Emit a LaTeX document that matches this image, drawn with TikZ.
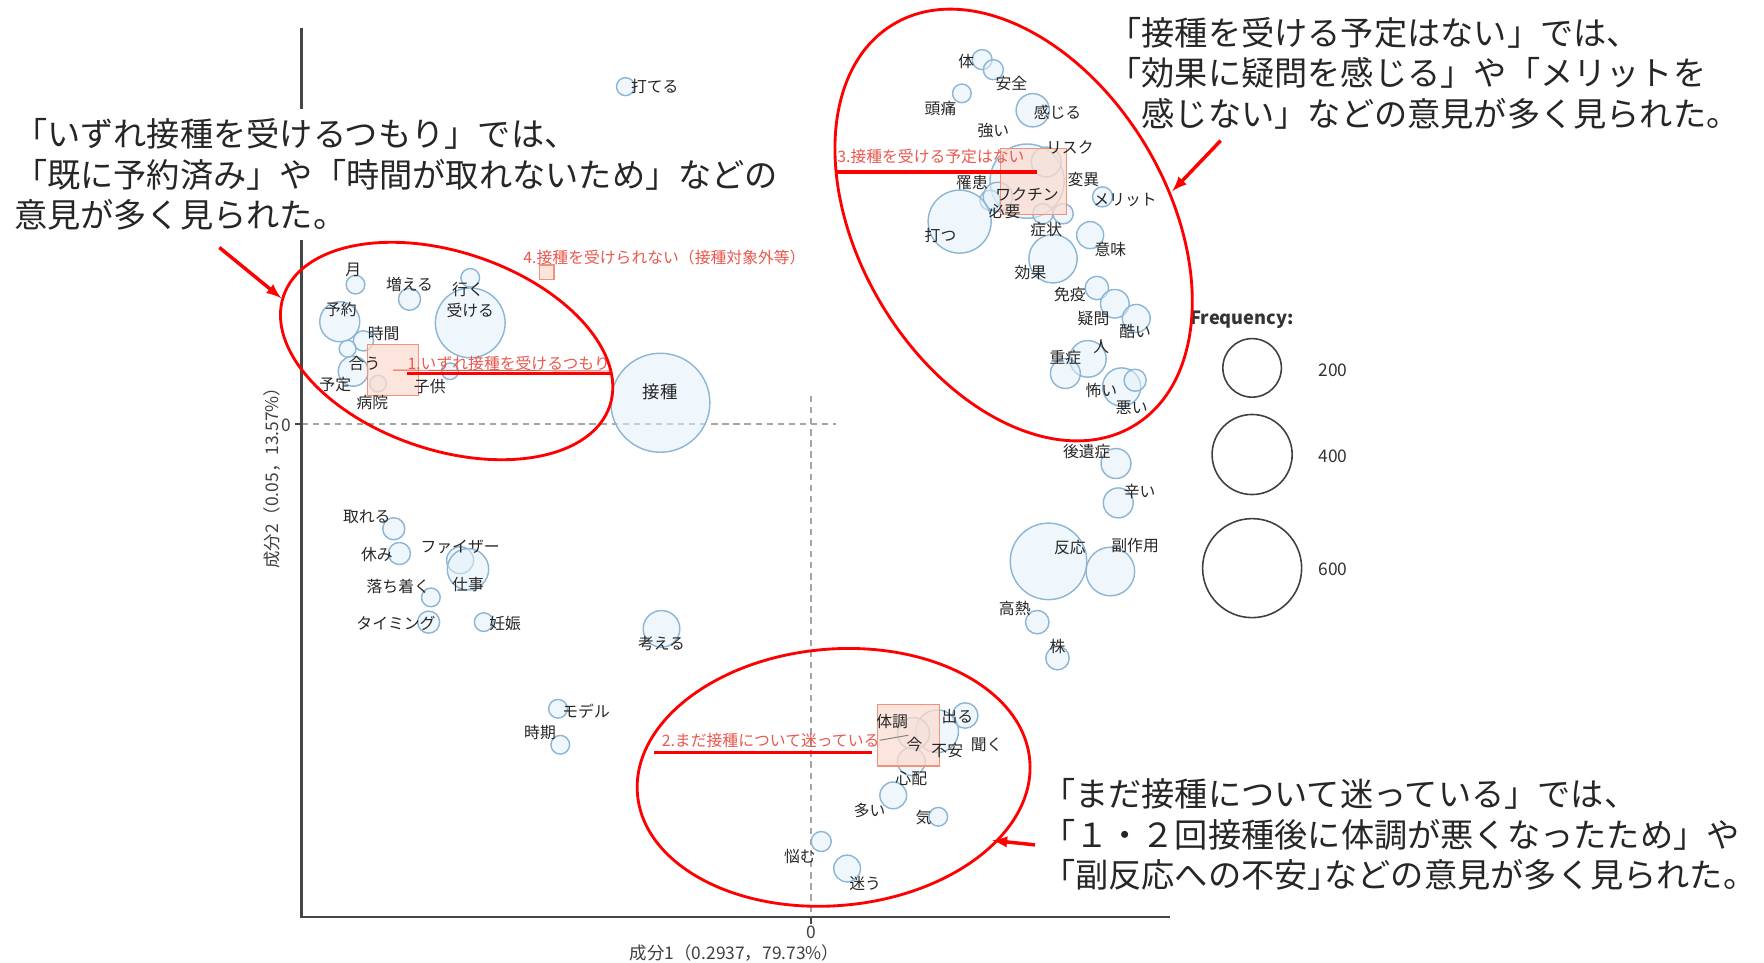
\documentclass[tikz,border=0pt]{standalone}
\usepackage{fontspec}
\setmainfont{Noto Sans CJK JP}
\usepackage{tikz}
\usepackage{xcolor}
\definecolor{bubbleLine}{RGB}{140, 182, 212}
\definecolor{bubbleFill}{RGB}{226, 240, 249}
\definecolor{catRed}{RGB}{232, 88, 78}
\definecolor{boxFill}{RGB}{250, 220, 208}
\definecolor{boxLine}{RGB}{240, 146, 124}
\definecolor{axisGray}{RGB}{70, 70, 70}

\begin{document}
\begin{tikzpicture}[x=0.025cm, y=-0.025cm]
  \tikzstyle{word} = [font=\fontsize{10}{12}\selectfont, text=black!85, inner sep=0pt]
  \tikzstyle{bubble} = [draw=bubbleLine, fill=bubbleFill, fill opacity=0.55, line width=0.9pt]
  \tikzstyle{catbox} = [draw=boxLine, fill=boxFill, fill opacity=0.75, line width=0.7pt, inner sep=0pt]
  \tikzstyle{catlabel} = [font=\fontsize{10}{12}\selectfont, text=catRed, inner sep=0pt]
  \tikzstyle{note} = [font=\fontsize{21}{25.6}\selectfont, align=left, inner sep=0pt, text=black!85]
  \tikzstyle{axislabel} = [font=\fontsize{11}{13}\selectfont, text=black!75, inner sep=0pt]
  \tikzstyle{legring} = [draw=black!75, circle, line width=1pt, inner sep=0pt]
  \tikzstyle{zeroline} = [draw=gray!70, line width=0.8pt, dash pattern=on 4pt off 3pt]
  \tikzstyle{redbar} = [draw=red, line width=2.2pt]
  \tikzstyle{redarrow} = [draw=red, line width=2.2pt, -latex]
  \tikzstyle{ringline} = [draw=red, line width=1.8pt]

  \useasboundingbox (0,0) rectangle (1568,856);

  % axes and zero lines
  \coordinate (origin) at (268,815);
  \coordinate (ytop) at (268,25);
  \coordinate (xend) at (1040,815);
  \coordinate (hz0) at (268,377);
  \coordinate (hz1) at (743,377);
  \coordinate (vz0) at (721,352);
  \coordinate (vz1) at (721,815);
  \draw[zeroline] (hz0) -- (hz1);
  \draw[zeroline] (vz0) -- (vz1);
  \draw[axisGray, line width=1.3pt] (ytop) -- (origin) -- (xend);
  \draw[axisGray, line width=1pt] (262,377) -- (hz0);
  \draw[axisGray, line width=1pt] (721,815) -- (721,821);
  \node[axislabel, anchor=east] (ytick) at (259,378) {0};
  \node[axislabel] (xtick) at (721,829) {0};
  \node[axislabel] (xlab) at (653,847) {成分1（0.2937，79.73\%）};
  \node[axislabel, rotate=90] (ylab) at (242,421) {成分2（0.05，13.57\%）};

  % bubbles
  \draw[bubble] (556,77) circle [radius=8];
  \draw[bubble] (316,253) circle [radius=8.3];
  \draw[bubble] (364,266) circle [radius=9.8];
  \draw[bubble] (418,247) circle [radius=8.3];
  \draw[bubble] (418,287) circle [radius=31];
  \draw[bubble] (302,286) circle [radius=17.8];
  \draw[bubble] (323,303) circle [radius=9];
  \draw[bubble] (309,310) circle [radius=7.5];
  \draw[bubble] (314,330) circle [radius=13.3];
  \draw[bubble] (336,341) circle [radius=7.4];
  \draw[bubble] (400,330) circle [radius=7.4];
  \draw[bubble] (587,358) circle [radius=44];
  \draw[bubble] (873,53) circle [radius=8.9];
  \draw[bubble] (883,62) circle [radius=8.9];
  \draw[bubble] (855,83) circle [radius=8.3];
  \draw[bubble] (918,98) circle [radius=14.8];
  \draw[bubble] (913,161) circle [radius=33];
  \draw[bubble] (930,144) circle [radius=13.3];
  \draw[bubble] (880,178) circle [radius=9];
  \draw[bubble] (887,175) circle [radius=13];
  \draw[bubble] (853,197) circle [radius=28];
  \draw[bubble] (980,175) circle [radius=8.9];
  \draw[bubble] (945,190) circle [radius=9];
  \draw[bubble] (927,190) circle [radius=9];
  \draw[bubble] (969,209) circle [radius=12];
  \draw[bubble] (936,230) circle [radius=21.5];
  \draw[bubble] (975,256) circle [radius=10.4];
  \draw[bubble] (991,270) circle [radius=12.7];
  \draw[bubble] (1010,283) circle [radius=12.4];
  \draw[bubble] (967,319) circle [radius=16.3];
  \draw[bubble] (947,332) circle [radius=13.3];
  \draw[bubble] (997,344) circle [radius=17];
  \draw[bubble] (1009,338) circle [radius=9.8];
  \draw[bubble] (992,412) circle [radius=13.3];
  \draw[bubble] (994,447) circle [radius=13.3];
  \draw[bubble] (932,499) circle [radius=34];
  \draw[bubble] (987,508) circle [radius=21.6];
  \draw[bubble] (922,553) circle [radius=10.4];
  \draw[bubble] (940,585) circle [radius=10.4];
  \draw[bubble] (350,470) circle [radius=9.8];
  \draw[bubble] (355,492) circle [radius=9.8];
  \draw[bubble] (409,498) circle [radius=12];
  \draw[bubble] (416,506) circle [radius=18.4];
  \draw[bubble] (383,531) circle [radius=8.3];
  \draw[bubble] (381,553) circle [radius=9.8];
  \draw[bubble] (430,553) circle [radius=8.3];
  \draw[bubble] (588,559) circle [radius=16.3];
  \draw[bubble] (496,630) circle [radius=8.3];
  \draw[bubble] (498,662) circle [radius=8.3];
  \draw[bubble] (858,636) circle [radius=11.3];
  \draw[bubble] (833,650) circle [radius=19];
  \draw[bubble] (812,652) circle [radius=14.2];
  \draw[bubble] (810,677) circle [radius=12.4];
  \draw[bubble] (794,707) circle [radius=11.9];
  \draw[bubble] (834,726) circle [radius=8.3];
  \draw[bubble] (730,748) circle [radius=8.9];
  \draw[bubble] (753,772) circle [radius=11.9];

  % category squares
  \node[catbox, minimum size=32pt] (sq1) at (349.5,329) {};
  \node[catbox, minimum size=39pt] (sq2) at (807.5,653.5) {};
  \node[catbox, minimum size=42pt] (sq3) at (918.5,161.5) {};
  \node[catbox, minimum size=9.2pt] (sq4) at (486,242) {};

  % words
  \node[word] (wUteru) at (582,77) {打てる};
  \node[word] (wTsuki) at (314,240) {月};
  \node[word] (wFueru) at (364,253) {増える};
  \node[word] (wIku) at (416,257) {行く};
  \node[word] (wUkeru) at (418,276) {受ける};
  \node[word] (wYoyaku) at (303,275) {予約};
  \node[word] (wJikan) at (341,296) {時間};
  \node[word] (wAu) at (324,323) {合う};
  \node[word] (wYotei) at (298,342) {予定};
  \node[word] (wByouin) at (331,358) {病院};
  \node[word] (wKodomo) at (382,344) {子供};
  \node[word, font=\fontsize{11}{13}\selectfont] (wSesshu) at (587,348) {接種};
  \node[word] (wKarada) at (859,55) {体};
  \node[word] (wAnzen) at (899,74) {安全};
  \node[word] (wZutsuu) at (836,96) {頭痛};
  \node[word] (wKanjiru) at (940,100) {感じる};
  \node[word] (wTsuyoi) at (883,116) {強い};
  \node[word] (wRisk) at (951,131) {リスク};
  \node[word] (wRikan) at (864,162) {罹患};
  \node[word] (wHeni) at (963,160) {変異};
  \node[word] (wVaccine) at (913,173) {ワクチン};
  \node[word] (wMerit) at (1000,178) {メリット};
  \node[word] (wHitsuyou) at (893,188) {必要};
  \node[word] (wUtsu) at (836,209) {打つ};
  \node[word] (wShoujou) at (930,204) {症状};
  \node[word] (wImi) at (987,222) {意味};
  \node[word] (wKouka) at (916,242) {効果};
  \node[word] (wMeneki) at (951,262) {免疫};
  \node[word] (wGimon) at (972,283) {疑問};
  \node[word] (wHidoi) at (1009,295) {酷い};
  \node[word] (wHito) at (979,308) {人};
  \node[word] (wJuushou) at (947,318) {重症};
  \node[word] (wKowai) at (979,347) {怖い};
  \node[word] (wWarui) at (1006,362) {悪い};
  \node[word] (wKouisho) at (966,401) {後遺症};
  \node[word] (wTsurai) at (1013,437) {辛い};
  \node[word] (wHannou) at (951,487) {反応};
  \node[word] (wFukusayou) at (1009,485) {副作用};
  \node[word] (wKounetsu) at (902,541) {高熱};
  \node[word] (wKabu) at (940,575) {株};
  \node[word] (wToreru) at (326,459) {取れる};
  \node[word] (wYasumi) at (335,493) {休み};
  \node[word] (wPfizer) at (409,486) {ファイザー};
  \node[word] (wShigoto) at (416,520) {仕事};
  \node[word] (wOchitsuku) at (354,521) {落ち着く};
  \node[word] (wTiming) at (352,554) {タイミング};
  \node[word] (wNinshin) at (449,554) {妊娠};
  \node[word] (wKangaeru) at (588,572) {考える};
  \node[word] (wModel) at (521,632) {モデル};
  \node[word] (wJiki) at (480,651) {時期};
  \node[word] (wTaichou) at (793,641) {体調};
  \node[word] (wDeru) at (851,637) {出る};
  \node[word] (wIma) at (813,662) {今};
  \node[word] (wFuan) at (842,667) {不安};
  \node[word] (wKiku) at (877,662) {聞く};
  \node[word] (wShinpai) at (810,692) {心配};
  \node[word] (wOoi) at (773,720) {多い};
  \node[word] (wKi) at (821,727) {気};
  \node[word] (wNayamu) at (711,761) {悩む};
  \node[word] (wMayou) at (769,785) {迷う};

  % category labels
  \node[catlabel, anchor=west] (cat1) at (362,323) {1.いずれ接種を受けるつもり};
  \node[catlabel, anchor=west] (cat2) at (588,658) {2.まだ接種について迷っている};
  \node[catlabel, anchor=west] (cat3) at (744,139) {3.接種を受ける予定はない};
  \node[catlabel, anchor=west] (cat4) at (465,229) {4.接種を受けられない（接種対象外等）};
  \draw[catRed, line width=0.6pt] (sq1.center) -- (cat1.south east);
  \draw[gray, line width=0.6pt] (cat2.east) -- (sq2.center);

  % legend
  \node[font=\fontsize{11.5}{13}\selectfont\bfseries, text=black!80] (legTitle) at (1104,284) {Frequency:};
  \node[legring, minimum size=37pt] (ring200) at (1113,327) {};
  \node[legring, minimum size=50.6pt] (ring400) at (1113,404) {};
  \node[legring, minimum size=62.6pt] (ring600) at (1113,505) {};
  \node[font=\fontsize{11}{13}\selectfont, text=black!80] (num200) at (1185,329) {200};
  \node[font=\fontsize{11}{13}\selectfont, text=black!80] (num400) at (1185,406) {400};
  \node[font=\fontsize{11}{13}\selectfont, text=black!80] (num600) at (1185,506) {600};

  % callouts
  \node[note, anchor=west, fill=white, inner ysep=6pt, inner xsep=3pt] (noteLeft) at (8,155)
    {「いずれ接種を受けるつもり」では、\\「既に予約済み」や「時間が取れないため」などの\\意見が多く見られた。};
  \node[note, anchor=west] (noteRight) at (985,65)
    {「接種を受ける予定はない」では、\\「効果に疑問を感じる」や「メリットを\\\hspace{1em}感じない」などの意見が多く見られた。};
  \node[note, anchor=west] (noteBottom) at (926,742)
    {「まだ接種について迷っている」では、\\「１・２回接種後に体調が悪くなったため」や\\「副反応への不安」\kern-0.5em などの意見が多く見られた。};

  % red marks
  \draw[ringline, rotate around={-18.6:(397,312)}] (397,312) ellipse [x radius=153, y radius=88];
  \draw[ringline, rotate around={-59.1:(901,200)}] (901,200) ellipse [x radius=208, y radius=137];
  \draw[ringline, rotate around={5:(741,691)}] (741,691) ellipse [x radius=175, y radius=114];
  \coordinate (bar1a) at (362,332);
  \coordinate (bar1b) at (542,332);
  \coordinate (bar2a) at (581,669);
  \coordinate (bar2b) at (775,669);
  \coordinate (bar3a) at (744,153);
  \coordinate (bar3b) at (922,153);
  \draw[redbar] (bar1a) -- (bar1b);
  \draw[redbar] (bar2a) -- (bar2b);
  \draw[redbar] (bar3a) -- (bar3b);
  \coordinate (tipLeft) at (250,265);
  \coordinate (tipRight) at (1042,170);
  \coordinate (tipBottom) at (882,747);
  \draw[redarrow] (195,220) -- (tipLeft);
  \draw[redarrow] (1085,125) -- (tipRight);
  \draw[redarrow] (920,751) -- (tipBottom);
\end{tikzpicture}
\end{document}
